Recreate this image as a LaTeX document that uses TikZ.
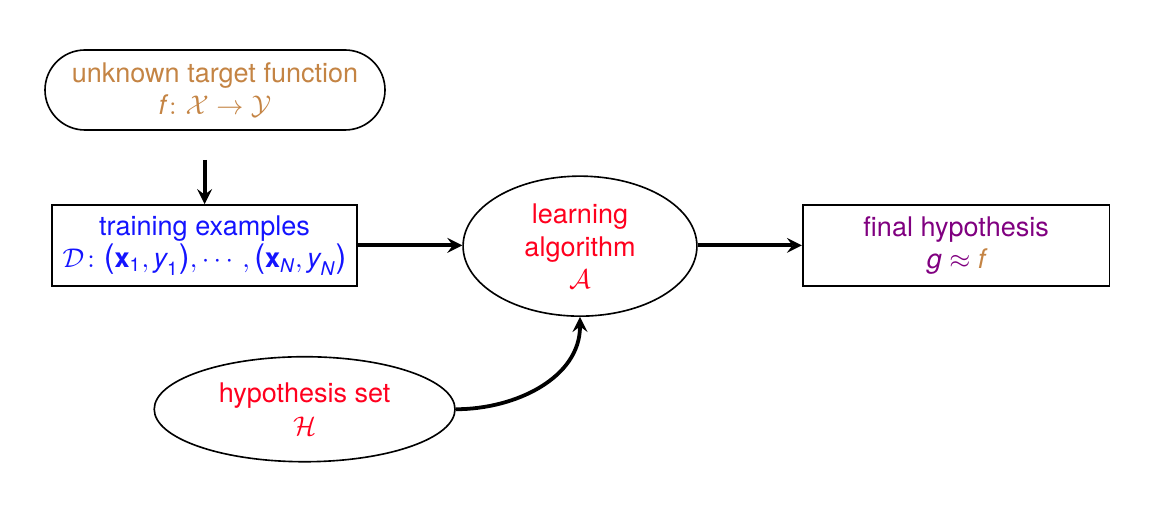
\documentclass[tikz,border=0pt]{standalone}
\usepackage{amsmath}
\usepackage{fontspec}
\setmainfont{TeX Gyre Heros}
\usetikzlibrary{shapes.geometric}

\definecolor{targetcol}{RGB}{196,132,68}
\definecolor{datacol}{RGB}{20,20,255}
\definecolor{algcol}{RGB}{255,0,30}
\definecolor{finalcol}{RGB}{128,0,128}

\newcommand{\sfit}[1]{\text{\itshape #1}}
\newcommand{\sfup}[1]{\text{#1}}
\newcommand{\bigpar}[1]{\text{\large #1}}

\tikzset{
  pill/.style={draw, semithick, rounded corners=0.52cm, align=center},
  plainbox/.style={draw, semithick, align=center},
  oval/.style={draw, semithick, ellipse, inner sep=0pt, align=center},
  flow/.style={line width=1.4pt, -stealth},
}

\begin{document}
\begin{tikzpicture}
      \useasboundingbox (0,0) rectangle (15.08,-6.76);

      \node[pill, minimum width=4.42cm, minimum height=1.04cm, text=targetcol] (target) at (2.795,-1.17)
      {unknown target function\\ $\sfit{f}\colon\mathcal{X}\to\mathcal{Y}$};
      \node[plainbox, minimum width=3.965cm, minimum height=1.053cm, text=datacol] (train) at (2.66,-3.19)
      {training examples\\ $\mathcal{D}\colon\bigpar{(}\mathbf{x}_{\sfup{1}},\sfit{y}_{\sfup{1}}\bigpar{)},\cdots,\bigpar{(}\mathbf{x}_{\sfit{N}},\sfit{y}_{\sfit{N}}\bigpar{)}$};
      \node[oval, minimum width=3.04cm, minimum height=1.82cm, text=algcol] (learn) at (7.54,-3.2)
      {learning\\ algorithm\\ $\mathcal{A}$};
      \node[plainbox, minimum width=3.99cm, minimum height=1.053cm, text=finalcol] (final) at (12.43,-3.19)
      {final hypothesis\\ $\sfit{g}\approx{\color{targetcol}\sfit{f}}$};
      \node[oval, minimum width=3.91cm, minimum height=1.365cm, text=algcol] (hyp) at (3.96,-5.32)
      {hypothesis set\\ $\mathcal{H}$};

      \coordinate (feed) at (2.66,-2.08);

      \draw[flow] (feed) -- (train.north);
      \draw[flow] (train.east) -- (train.east -| learn.west);
      \draw[flow] (final.west -| learn.east) -- (final.west);
      \draw[flow] (hyp.east) to[out=0, in=-90] (learn.south);
    \end{tikzpicture}
\end{document}
